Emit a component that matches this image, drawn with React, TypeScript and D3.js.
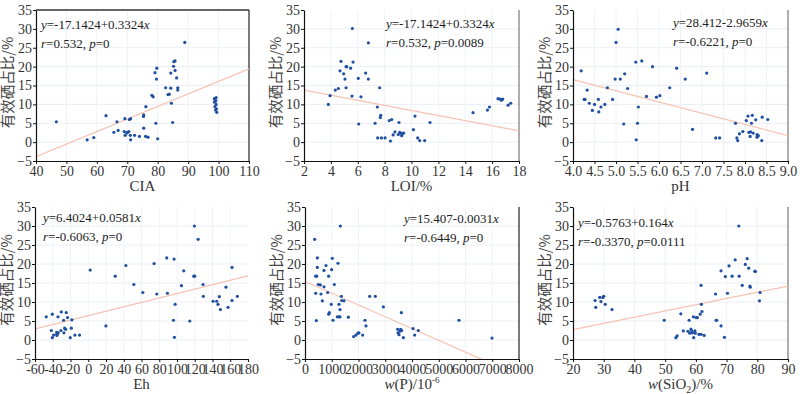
import React, { useEffect, useRef } from 'react';
import * as d3 from 'd3';

// y is always the share of available Se (%)
const yTicks = [-5, 0, 5, 10, 15, 20, 25, 30, 35];

const ciaTicks = [40, 50, 60, 70, 80, 90, 100, 110];
const loiTicks = [2, 4, 6, 8, 10, 12, 14, 16, 18];
const phTicks = [4.0, 4.5, 5.0, 5.5, 6.0, 6.5, 7.0, 7.5, 8.0, 8.5, 9.0];
const ehTicks = [-60, -40, -20, 0, 20, 40, 60, 80, 100, 120, 140, 160, 180];
const pTicks = [0, 1000, 2000, 3000, 4000, 5000, 6000, 7000, 8000];
const siTicks = [20, 30, 40, 50, 60, 70, 80, 90];

const ciaPoints: [number, number][] = [
  [46.7, 5.4], [56.8, 0.6], [59.0, 1.2], [63.0, 7.0], [65.6, 2.6], [66.6, 5.4], [67.0, 3.1],
  [69.0, 2.8], [69.2, 6.2], [69.3, 1.8], [69.8, 2.4], [70.1, 2.6], [70.5, 2.8], [70.7, 6.0],
  [71.0, 1.8], [71.1, 0.6], [71.1, 6.2], [72.4, 1.8], [74.0, 1.5], [75.3, 6.8], [75.4, 7.2],
  [75.4, 3.7], [76.0, 1.5], [76.1, 9.4], [76.8, 1.3], [79.1, 18.4], [79.4, 5.0], [79.6, 16.7],
  [79.7, 19.6], [80.0, 0.9], [78.1, 12.4], [78.5, 12.0], [82.6, 14.4], [83.4, 12.6], [83.8, 12.7],
  [84.3, 14.3], [84.3, 18.3], [84.5, 10.3], [84.9, 5.2], [85.2, 20.1], [85.3, 21.3], [85.7, 21.5],
  [85.7, 19.0], [86.2, 17.0], [86.6, 14.4], [86.6, 13.8], [88.9, 26.4],
  [98.6, 11.5], [99.2, 11.8], [98.9, 11.2], [99.1, 10.9], [98.6, 10.6], [99.2, 10.0],
  [98.8, 9.4], [99.3, 8.8], [99.0, 8.5], [99.4, 7.9],
];

const loiPoints: [number, number][] = [
  [3.81, 10.0], [3.94, 12.3], [4.33, 13.8], [4.56, 14.2], [4.68, 18.9], [4.75, 21.4], [4.95, 18.1],
  [5.05, 16.7], [5.13, 20.0], [5.18, 20.0], [5.13, 14.4], [5.47, 19.6], [5.57, 12.2], [5.60, 30.1],
  [5.65, 21.2], [6.07, 4.8], [6.04, 16.9], [6.24, 12.0], [6.59, 18.3], [6.79, 26.3], [6.79, 16.7],
  [7.29, 5.0], [7.46, 9.3], [7.48, 1.1], [7.63, 14.4], [7.68, 6.5], [7.71, 7.1], [7.76, 1.1],
  [8.03, 1.1], [8.35, 5.7], [8.43, 0.3], [8.53, 6.0], [8.63, 1.9], [8.77, 2.7], [9.02, 2.0],
  [9.07, 5.2], [9.12, 2.6], [9.20, 2.4], [9.27, 1.7], [9.32, 2.2], [9.42, 2.4], [10.14, 3.3],
  [10.26, 6.9], [10.46, 1.1], [10.61, 0.4], [10.98, 0.4], [11.38, 5.2], [14.58, 7.8],
  [15.65, 8.5], [15.80, 9.3], [16.44, 11.5], [16.59, 11.4], [16.69, 11.1], [16.79, 11.4],
  [17.19, 9.8], [17.38, 10.3],
];

const phPoints: [number, number][] = [
  [4.19, 18.9], [4.26, 11.3], [4.28, 11.3], [4.33, 13.8], [4.38, 10.3], [4.45, 8.4], [4.50, 10.0],
  [4.59, 11.3], [4.60, 8.0], [4.65, 9.3], [4.74, 10.0], [4.80, 14.4], [4.92, 11.3], [4.98, 16.7],
  [5.00, 26.4], [5.05, 29.9], [5.10, 16.7], [5.18, 4.8], [5.20, 18.1], [5.27, 14.2], [5.46, 21.2],
  [5.47, 0.6], [5.50, 5.0], [5.52, 9.3], [5.60, 21.5], [5.71, 12.1], [5.85, 20.0], [5.94, 11.9],
  [6.02, 12.3], [6.25, 14.4], [6.41, 19.6], [6.61, 16.7], [6.78, 3.4], [7.11, 18.3], [7.32, 1.1],
  [7.41, 1.1], [7.78, 5.0], [7.81, 1.1], [7.83, 0.4], [7.87, 2.2], [7.95, 2.8], [8.03, 5.7],
  [8.07, 6.9], [8.09, 2.6], [8.12, 1.5], [8.13, 2.7], [8.15, 5.0], [8.17, 7.1], [8.19, 2.4],
  [8.25, 5.9], [8.28, 2.0], [8.28, 1.3], [8.31, 1.7], [8.39, 0.4], [8.40, 6.6], [8.53, 6.0],
];

const ehPoints: [number, number][] = [
  [-47.3, 6.1], [-41.6, 2.5], [-40.5, 6.8], [-40.5, 0.6], [-39.0, 1.3], [-35.6, 2.0], [-35.3, 1.5],
  [-35.3, 1.2], [-34.1, 6.1], [-33.8, 1.9], [-30.4, 7.4], [-30.8, 2.5], [-27.8, 5.2], [-27.4, 1.9],
  [-26.6, 3.1], [-25.5, 2.8], [-24.8, 7.2], [-23.3, 5.9], [-20.3, 0.6], [-19.1, 3.1], [-18.4, 5.3],
  [-15.0, 1.3], [-9.8, 1.3], [2.2, 18.4], [19.9, 3.7], [30.4, 16.8], [42.4, 19.6], [51.4, 14.6],
  [61.5, 12.5], [74.2, 20.1], [77.2, 12.1], [88.5, 21.6], [89.2, 12.3], [96.0, 5.2], [96.7, 21.3],
  [97.9, 9.4], [97.1, 0.7], [107.6, 18.2], [105.0, 14.3], [114.4, 5.0], [118.9, 16.8], [120.0, 16.8],
  [119.6, 30.0], [123.8, 26.5], [129.4, 14.6], [129.7, 11.5], [140.6, 10.2], [144.7, 10.2],
  [146.2, 9.4], [147.7, 11.4], [148.9, 8.0], [155.2, 13.9], [157.5, 8.6], [162.0, 10.4],
  [162.0, 19.1], [168.0, 11.5],
];

const pPoints: [number, number][] = [
  [361, 26.5], [399, 12.3], [399, 16.8], [436, 16.8], [424, 5.1], [461, 21.6], [461, 19.1],
  [498, 14.6], [573, 14.5], [598, 12.1], [648, 10.3], [710, 14.0], [710, 18.3], [785, 19.6],
  [847, 12.5], [885, 16.8], [885, 6.8], [910, 7.2], [984, 9.4], [997, 18.5], [1022, 21.5],
  [1047, 5.2], [1097, 14.6], [1209, 6.1], [1234, 20.2], [1271, 9.4], [1271, 6.1], [1308, 8.0],
  [1308, 6.1], [1321, 30.0], [1358, 11.5], [1371, 10.4], [1458, 10.3], [1620, 6.0], [1819, 0.9],
  [1907, 1.3], [1981, 1.8], [2019, 1.9], [2156, 1.3], [2243, 5.2], [2280, 3.7], [2417, 11.5],
  [2629, 11.5], [2928, 8.7], [3464, 2.8], [3477, 1.9], [3514, 1.4], [3551, 2.3], [3576, 2.8],
  [3601, 7.2], [3614, 2.5], [3676, 0.6], [4037, 3.0], [4100, 1.3], [4237, 2.5], [5757, 5.2],
  [6991, 0.5],
];

const siPoints: [number, number][] = [
  [27.2, 10.4], [27.4, 8.6], [28.7, 11.2], [29.1, 10.1], [29.7, 11.2], [30.0, 11.5], [30.5, 9.4],
  [32.7, 8.0], [49.7, 5.2], [53.5, 0.6], [53.9, 1.1], [55.1, 6.9], [55.9, 2.4], [57.4, 2.3],
  [57.8, 5.2], [58.0, 1.8], [58.4, 2.9], [58.6, 2.5], [58.9, 1.9], [59.2, 6.1], [59.3, 0.6],
  [59.7, 2.4], [59.8, 1.8], [60.1, 5.9], [60.5, 5.9], [61.0, 1.5], [61.4, 6.8], [61.7, 1.5],
  [61.7, 14.4], [61.8, 9.4], [62.0, 7.5], [62.7, 1.2], [66.4, 12.1], [66.6, 5.2], [66.8, 5.2],
  [68.2, 3.7], [68.2, 18.2], [69.3, 0.7], [69.6, 16.7], [70.3, 12.3], [70.8, 19.5], [71.8, 16.8],
  [72.8, 21.1], [74.0, 30.0], [74.1, 16.8], [75.1, 14.4], [76.1, 19.9], [76.7, 21.4], [77.2, 18.9],
  [77.6, 14.2], [77.7, 13.9], [79.2, 18.1], [79.4, 18.0], [80.7, 10.3], [80.9, 12.5],
];

// fitted lines as drawn: [intercept, slope]
const fits: [number, number][] = [
  [-17.1424, 0.3324],
  [15.15, -0.675],
  [28.412, -2.9659],
  [6.4024, 0.0581],
  [15.407, -0.0031],
  [-0.5763, 0.164],
];

// equation labels
const eqLines = [
  ['-17.1424+0.3324', '0.532', '0'],
  ['-17.1424+0.3324', '0.532', '0.0089'],
  ['28.412-2.9659', '-0.6221', '0'],
  ['6.4024+0.0581', '-0.6063', '0'],
  ['15.407-0.0031', '-0.6449', '0'],
  ['-0.5763+0.164', '-0.3370', '0.0111'],
];

const panels = [
  { pts: ciaPoints, ticks: ciaTicks, title: 'cia' },
  { pts: loiPoints, ticks: loiTicks, title: 'loi' },
  { pts: phPoints, ticks: phTicks, title: 'ph' },
  { pts: ehPoints, ticks: ehTicks, title: 'eh' },
  { pts: pPoints, ticks: pTicks, title: 'p' },
  { pts: siPoints, ticks: siTicks, title: 'si' },
];

// plot boxes [left, top, right, bottom] and label anchor
const layout = [
  { box: [36, 10, 249, 161], eq: [41, 29], top: true, right: '#222' },
  { box: [304, 10, 519, 161], eq: [386, 28], top: false, right: '#777' },
  { box: [573, 10, 788, 161], eq: [673, 27], top: false, right: '#777' },
  { box: [35, 207, 248, 359], eq: [43, 222], top: false, right: null },
  { box: [305, 207, 519, 359], eq: [404, 223], top: false, right: '#222' },
  { box: [573, 207, 788, 359], eq: [578, 227], top: false, right: '#777' },
];

const serif = '"Liberation Serif", "Times New Roman", serif';
const textCol = '#333';

function xTitle(t, title) {
  if (title === 'cia') t.text('CIA');
  else if (title === 'loi') t.text('LOI/%');
  else if (title === 'ph') t.text('pH');
  else if (title === 'eh') t.text('Eh');
  else if (title === 'p') {
    t.append('tspan').attr('font-style', 'italic').text('w');
    t.append('tspan').text('(P)/10');
    t.append('tspan').attr('font-size', 9).attr('dy', -6).text('-6');
  } else {
    t.append('tspan').attr('font-style', 'italic').text('w');
    t.append('tspan').text('(SiO');
    t.append('tspan').attr('font-size', 10).attr('dy', 4).text('2');
    t.append('tspan').attr('dy', -4).text(')/%');
  }
}

const App = () => {
  const ref = useRef(null);

  useEffect(() => {
    const svg = d3.select(ref.current);
    svg.selectAll('*').remove();

    panels.forEach((p, i) => {
      const [l, t, r, b] = layout[i].box;
      const ticks = p.ticks;
      const x = d3.scaleLinear().domain([ticks[0], ticks[ticks.length - 1]]).range([l, r]);
      const y = d3.scaleLinear().domain([-5, 35]).range([b, t]);
      const g = svg.append('g');

      // faint grid
      g.append('g').selectAll('line').data(yTicks.slice(1, -1)).join('line')
        .attr('x1', l).attr('x2', r).attr('y1', d => y(d)).attr('y2', d => y(d))
        .attr('stroke', '#e9eef6').attr('stroke-width', 1);
      g.append('g').selectAll('line').data(ticks.slice(1, -1)).join('line')
        .attr('y1', t).attr('y2', b).attr('x1', d => x(d)).attr('x2', d => x(d))
        .attr('stroke', '#eef2f8').attr('stroke-width', 1);

      if (layout[i].top) {
        g.append('line').attr('x1', l).attr('x2', r).attr('y1', t).attr('y2', t)
          .attr('stroke', '#666').attr('stroke-width', 2);
      }
      if (layout[i].right) {
        g.append('line').attr('x1', r).attr('x2', r).attr('y1', t).attr('y2', b)
          .attr('stroke', layout[i].right).attr('stroke-width', 1.2);
      }

      // regression line
      const clipId = 'clip' + i;
      svg.append('clipPath').attr('id', clipId).append('rect')
        .attr('x', l).attr('y', t).attr('width', r - l).attr('height', b - t);
      const [a, s] = fits[i];
      const x0 = ticks[0], x1 = ticks[ticks.length - 1];
      const line = d3.line().x(d => x(d[0])).y(d => y(d[1]));
      g.append('path')
        .datum([[x0, a + s * x0], [x1, a + s * x1]])
        .attr('d', line)
        .attr('clip-path', `url(#${clipId})`)
        .attr('stroke', '#f7c2b2')
        .attr('stroke-width', 1.2)
        .attr('fill', 'none');

      // points
      g.append('g').selectAll('circle').data(p.pts).join('circle')
        .attr('cx', d => x(d[0])).attr('cy', d => y(d[1]))
        .attr('r', 1.6).attr('fill', '#1f4fa0');

      // axes
      const xAxis = g.append('g')
        .attr('transform', `translate(0,${b})`)
        .call(d3.axisBottom(x).tickValues(ticks).tickSize(3).tickSizeOuter(0).tickPadding(2)
          .tickFormat(d => (i === 2 ? d3.format('.1f')(d) : String(d))));
      const yAxis = g.append('g')
        .attr('transform', `translate(${l},0)`)
        .call(d3.axisLeft(y).tickValues(yTicks).tickSize(3).tickSizeOuter(0).tickPadding(1));
      [xAxis, yAxis].forEach(ax => {
        ax.select('.domain').attr('stroke', '#111').attr('stroke-width', 1.2);
        ax.selectAll('line').attr('stroke', '#111');
        ax.selectAll('text').attr('font-family', serif).attr('font-size', 14).attr('fill', textCol);
      });

      // axis titles
      const xt = g.append('text')
        .attr('x', (l + r) / 2).attr('y', b + 30)
        .attr('text-anchor', 'middle')
        .attr('font-family', serif).attr('font-size', 15).attr('fill', textCol);
      xTitle(xt, p.title);

      g.append('text')
        .attr('transform', `translate(${l - 23},${(t + b) / 2 - 3}) rotate(-90)`)
        .attr('text-anchor', 'middle')
        .attr('font-family', '"Noto Sans CJK SC", sans-serif')
        .attr('font-size', 14.5).attr('fill', '#444')
        .text('有效硒占比/%');

      // equation
      const [ex, ey] = layout[i].eq;
      const e = eqLines[i];
      const t1 = g.append('text').attr('x', ex).attr('y', ey)
        .attr('font-family', serif).attr('font-size', 13).attr('fill', '#222');
      t1.append('tspan').attr('font-style', 'italic').text('y');
      t1.append('tspan').text('=' + e[0]);
      t1.append('tspan').attr('font-style', 'italic').text('x');
      const t2 = g.append('text').attr('x', ex).attr('y', ey + 19)
        .attr('font-family', serif).attr('font-size', 13).attr('fill', '#222');
      t2.append('tspan').attr('font-style', 'italic').text('r');
      t2.append('tspan').text('=' + e[1] + ', ');
      t2.append('tspan').attr('font-style', 'italic').text('p');
      t2.append('tspan').text('=' + e[2]);
    });
  }, []);

  return (
    <svg ref={ref} width={800} height={394}
      style={{ position: 'absolute', left: 0, top: 0, background: '#fff' }} />
  );
};

export default App;
